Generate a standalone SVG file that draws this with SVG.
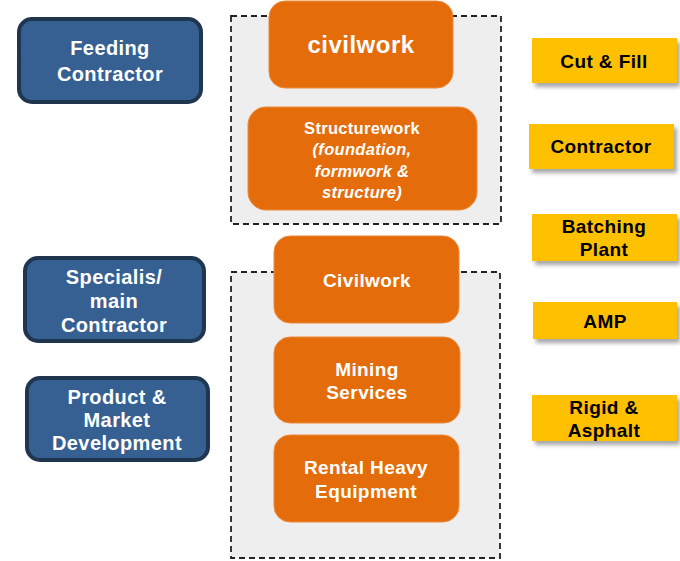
<svg xmlns="http://www.w3.org/2000/svg" width="680" height="561" viewBox="0 0 680 561">
<defs>
<filter id="sh" x="-10%" y="-20%" width="130%" height="160%">
<feDropShadow dx="3" dy="4" stdDeviation="2" flood-color="#000" flood-opacity="0.35"/>
</filter>
</defs>
<style>
.grp{fill:#eeeeee;stroke:#222;stroke-width:1.8;stroke-dasharray:6,4}
.blue{fill:#366092;stroke:#1f3550;stroke-width:4}
.orange{fill:#e46c0a;stroke:#ee8a3a;stroke-width:1}
.yellow{fill:#ffc000;filter:url(#sh)}
text{font-family:"Liberation Sans",Arial,sans-serif;font-weight:bold;text-anchor:middle}
.wt{fill:#fff;font-size:20px;letter-spacing:0.4px}
.ot{fill:#fff;font-size:19px;letter-spacing:0.4px}
.st{fill:#fff;font-size:16.5px;letter-spacing:0.3px}
.yt{fill:#000;font-size:19px;letter-spacing:0.4px}
</style>
<rect x="0" y="0" width="680" height="561" fill="#fff"/>
<g id="groups">
<rect id="group-top" class="grp" x="231" y="16" width="270" height="208"/>
<rect id="group-bottom" class="grp" x="231" y="272" width="269" height="286"/>
</g>
<g id="connectors"></g>
<g id="feeding-contractor">
<rect class="blue" x="19" y="19" width="182" height="83" rx="13"/>
<text class="wt" x="110" y="55">Feeding</text>
<text class="wt" x="110" y="81">Contractor</text>
</g>
<g id="specialis-contractor">
<rect class="blue" x="25" y="258" width="179" height="83" rx="13"/>
<text class="wt" x="114" y="284">Specialis/</text>
<text class="wt" x="114" y="308">main</text>
<text class="wt" x="114" y="332">Contractor</text>
</g>
<g id="product-market">
<rect class="blue" x="27" y="378" width="181" height="82" rx="13"/>
<text class="wt" x="117" y="404">Product &amp;</text>
<text class="wt" x="117" y="427">Market</text>
<text class="wt" x="117" y="450">Development</text>
</g>
<g id="civilwork-top">
<rect class="orange" x="269" y="1" width="184" height="87" rx="16"/>
<text fill="#fff" font-size="24" letter-spacing="0.5" x="361" y="53">civilwork</text>
</g>
<g id="structurework">
<rect class="orange" x="248" y="107" width="229" height="103" rx="18"/>
<text class="st" x="362" y="134">Structurework</text>
<text class="st" font-style="italic" x="362" y="155">(foundation,</text>
<text class="st" font-style="italic" x="362" y="177">formwork &amp;</text>
<text class="st" font-style="italic" x="362" y="198">structure)</text>
</g>
<g id="civilwork-bottom">
<rect class="orange" x="274" y="236" width="185" height="87" rx="16"/>
<text class="ot" x="367" y="287">Civilwork</text>
</g>
<g id="mining-services">
<rect class="orange" x="274" y="337" width="186" height="86" rx="16"/>
<text class="ot" x="367" y="376">Mining</text>
<text class="ot" x="367" y="399">Services</text>
</g>
<g id="rental-heavy-equipment">
<rect class="orange" x="274" y="435" width="185" height="87" rx="16"/>
<text class="ot" x="366" y="474">Rental Heavy</text>
<text class="ot" x="366" y="498">Equipment</text>
</g>
<g id="cut-fill">
<rect class="yellow" x="532" y="38" width="145" height="45"/>
<text class="yt" x="604" y="68">Cut &amp; Fill</text>
</g>
<g id="contractor">
<rect class="yellow" x="529" y="124" width="145" height="45"/>
<text class="yt" x="601" y="153">Contractor</text>
</g>
<g id="batching-plant">
<rect class="yellow" x="532" y="214" width="145" height="47"/>
<text class="yt" x="604" y="233">Batching</text>
<text class="yt" x="604" y="256">Plant</text>
</g>
<g id="amp">
<rect class="yellow" x="533" y="302" width="144" height="37"/>
<text class="yt" x="605" y="328">AMP</text>
</g>
<g id="rigid-asphalt">
<rect class="yellow" x="532" y="395" width="145" height="46"/>
<text class="yt" x="604" y="414">Rigid &amp;</text>
<text class="yt" x="604" y="437">Asphalt</text>
</g>
</svg>
